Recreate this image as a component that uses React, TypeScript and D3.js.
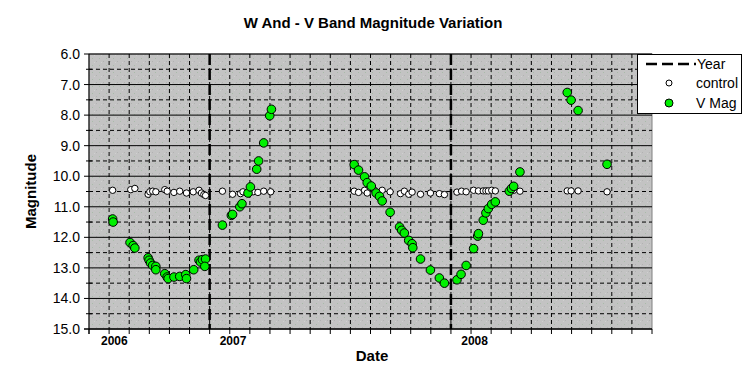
import * as d3 from 'd3';

// decimal year, magnitude
const vMagDates = [
  2006.598, 2006.600, 2006.670, 2006.683, 2006.690, 2006.745, 2006.749, 2006.755, 2006.764, 2006.777,
  2006.777, 2006.814, 2006.824, 2006.828, 2006.852, 2006.876, 2006.901, 2006.904, 2006.934, 2006.956,
  2006.962, 2006.970, 2006.983, 2006.980,
  2007.053, 2007.090, 2007.095, 2007.125, 2007.134, 2007.159, 2007.169, 2007.195, 2007.203, 2007.224,
  2007.249, 2007.256,
  2007.599, 2007.617, 2007.642, 2007.653, 2007.670, 2007.690, 2007.704, 2007.715, 2007.748, 2007.787,
  2007.796, 2007.807, 2007.825, 2007.839, 2007.842, 2007.874, 2007.915, 2007.952, 2007.973, 2008.025,
  2008.042, 2008.063, 2008.094, 2008.111, 2008.114, 2008.134, 2008.145, 2008.155, 2008.169, 2008.184,
  2008.242, 2008.251, 2008.260, 2008.286,
  2008.482, 2008.498, 2008.527, 2008.647,
];
const vMagValues = [
  11.40, 11.50, 12.17, 12.27, 12.35, 12.67, 12.75, 12.84, 12.92, 12.95,
  13.06, 13.19, 13.30, 13.35, 13.30, 13.28, 13.22, 13.35, 13.06, 12.75,
  12.81, 12.73, 12.71, 12.95,
  11.60, 11.28, 11.25, 11.00, 10.90, 10.55, 10.35, 9.77, 9.50, 8.91,
  8.02, 7.81,
  9.62, 9.80, 10.02, 10.21, 10.32, 10.55, 10.66, 10.81, 11.18, 11.66,
  11.77, 11.86, 12.10, 12.21, 12.34, 12.71, 13.07, 13.33, 13.50, 13.39,
  13.21, 12.92, 12.37, 11.96, 11.88, 11.44, 11.20, 11.06, 10.92, 10.84,
  10.49, 10.40, 10.33, 9.86,
  7.26, 7.51, 7.85, 9.61,
];

const controlDates = [
  2006.598, 2006.673, 2006.690, 2006.745, 2006.752, 2006.764, 2006.777, 2006.814, 2006.824, 2006.852,
  2006.876, 2006.904, 2006.932, 2006.956, 2006.966, 2006.976, 2006.983,
  2007.053, 2007.095, 2007.128, 2007.138, 2007.180, 2007.200, 2007.224, 2007.253,
  2007.599, 2007.617, 2007.642, 2007.653, 2007.683, 2007.715, 2007.748, 2007.791, 2007.807, 2007.825,
  2007.839, 2007.874, 2007.915, 2007.952, 2007.973, 2008.025, 2008.044, 2008.063, 2008.094, 2008.114,
  2008.134, 2008.145, 2008.155, 2008.169, 2008.184, 2008.242, 2008.260, 2008.286,
  2008.482, 2008.498, 2008.527, 2008.647,
];
const controlValues = [
  10.46, 10.44, 10.40, 10.59, 10.51, 10.49, 10.51, 10.44, 10.49, 10.53,
  10.49, 10.55, 10.51, 10.46, 10.55, 10.60, 10.63,
  10.49, 10.59, 10.57, 10.51, 10.51, 10.53, 10.49, 10.51,
  10.49, 10.53, 10.46, 10.55, 10.46, 10.46, 10.51, 10.57, 10.49, 10.59,
  10.52, 10.59, 10.55, 10.57, 10.60, 10.52, 10.49, 10.51, 10.46, 10.48,
  10.48, 10.48, 10.48, 10.46, 10.48, 10.46, 10.46, 10.49,
  10.48, 10.48, 10.48, 10.51,
];

const yearLines = [2007, 2008];
const yearLabels = ['2006', '2007', '2008'];
const yearLabelPos = [2006.605, 2007.097, 2008.098];
const magTicks = [6, 7, 8, 9, 10, 11, 12, 13, 14, 15];

const W = 745;
const H = 384;
const left = 89;
const right = 652;
const top = 54;
const bottom = 329;

export default function App() {
  const x = d3.scaleLinear().domain([2006.5, 2008 + 10 / 12]).range([left, right]);
  const y = d3.scaleLinear().domain([6, 15]).range([top, bottom]);
  const monthTicks = d3.range(0, 29).map((i) => 2006.5 + i / 12);
  const halfTicks = d3.range(6.5, 15, 1);

  const vMag = vMagDates.map((d, i) => ({ t: d, m: vMagValues[i] }));
  const control = controlDates.map((d, i) => ({ t: d, m: controlValues[i] }));

  return (
    <svg width={W} height={H} style={{ position: 'absolute', left: 0, top: 0, background: '#fff' }}
      fontFamily="'Liberation Sans', Arial, sans-serif">
      <defs>
        <pattern id="speck" width="7" height="7" patternUnits="userSpaceOnUse">
          <rect width="7" height="7" fill="#c3c3c3" />
          <rect x="1" y="2" width="1" height="1" fill="#a9bba9" />
          <rect x="5" y="5" width="1" height="1" fill="#b2b2b2" />
          <rect x="3" y="6" width="1" height="1" fill="#d0d0d0" />
        </pattern>
      </defs>

      <text x={373} y={28} textAnchor="middle" fontSize={15} fontWeight="bold">
        W And - V Band Magnitude Variation
      </text>

      <rect x={left} y={top} width={right - left} height={bottom - top} fill="url(#speck)"
        stroke="#808080" strokeWidth={1} />

      {/* vertical monthly gridlines */}
      {monthTicks.slice(1, -1).map((t, i) => (
        <line key={'vg' + i} x1={x(t)} x2={x(t)} y1={top} y2={bottom}
          stroke="#000" strokeWidth={1} strokeDasharray="4,3" />
      ))}
      {/* horizontal gridlines */}
      {halfTicks.map((m, i) => (
        <line key={'hh' + i} x1={left} x2={right} y1={y(m)} y2={y(m)}
          stroke="#000" strokeWidth={1} strokeDasharray="4,3" />
      ))}
      {magTicks.map((m, i) => (
        <line key={'hg' + i} x1={left} x2={right} y1={y(m)} y2={y(m)} stroke="#000" strokeWidth={1} />
      ))}

      {/* year lines */}
      {yearLines.map((t, i) => (
        <line key={'yl' + i} x1={x(t)} x2={x(t)} y1={top} y2={bottom}
          stroke="#000" strokeWidth={2.5} strokeDasharray="11,4" />
      ))}

      {/* axes */}
      <line x1={left} x2={left} y1={top} y2={bottom + 5} stroke="#000" />
      <line x1={left - 5} x2={right} y1={bottom} y2={bottom} stroke="#000" />
      {magTicks.map((m, i) => (
        <line key={'yt' + i} x1={left - 5} x2={left} y1={y(m)} y2={y(m)} stroke="#000" />
      ))}
      {halfTicks.map((m, i) => (
        <line key={'yh' + i} x1={left - 3} x2={left + 3} y1={y(m)} y2={y(m)} stroke="#000" />
      ))}
      {monthTicks.map((t, i) => (
        <line key={'xt' + i} x1={x(t)} x2={x(t)} y1={bottom} y2={bottom + 5} stroke="#000" />
      ))}
      {magTicks.map((m, i) => (
        <text key={'yl' + i} x={left - 9} y={y(m) + 5} textAnchor="end" fontSize={14}>
          {d3.format('.1f')(m)}
        </text>
      ))}
      {yearLabels.map((s, i) => (
        <text key={'yr' + i} x={x(yearLabelPos[i])} y={345} textAnchor="middle" fontSize={12} fontWeight="bold">
          {s}
        </text>
      ))}
      <text x={372} y={361} textAnchor="middle" fontSize={15} fontWeight="bold">Date</text>
      <text transform={`translate(36,${(top + bottom) / 2}) rotate(-90)`} textAnchor="middle"
        fontSize={15} fontWeight="bold">Magnitude</text>

      {/* control */}
      {control.map((d, i) => (
        <circle key={'c' + i} cx={x(d.t)} cy={y(d.m)} r={3.2} fill="#fff" stroke="#000" strokeWidth={1} />
      ))}
      {/* V mag */}
      {vMag.map((d, i) => (
        <circle key={'v' + i} cx={x(d.t)} cy={y(d.m)} r={4.3} fill="#00f000" stroke="#000" strokeWidth={1} />
      ))}

      {/* legend */}
      <g>
        <rect x={637.5} y={54.5} width={104} height={59} fill="#fff" stroke="#000" />
        <line x1={646} x2={696} y1={64} y2={64} stroke="#000" strokeWidth={2.5} strokeDasharray="11,5" />
        <text x={697} y={69} fontSize={14}>Year</text>
        <circle cx={669} cy={83} r={3} fill="#fff" stroke="#000" />
        <text x={696} y={88} fontSize={14}>control</text>
        <circle cx={669} cy={103} r={4} fill="#00f000" stroke="#000" />
        <text x={696} y={108} fontSize={14}>V Mag</text>
      </g>
    </svg>
  );
}
